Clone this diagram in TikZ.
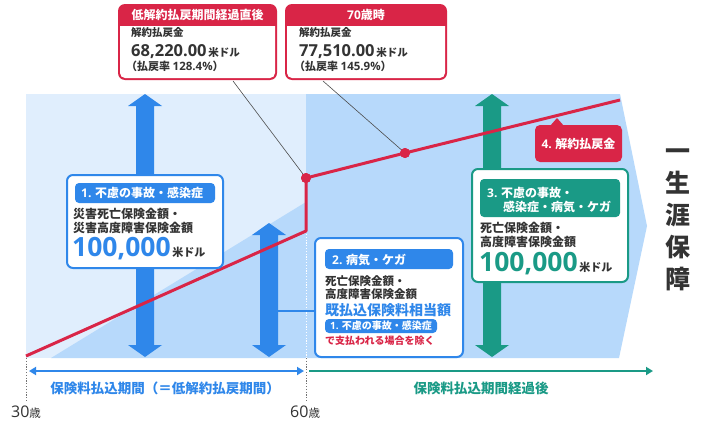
\documentclass[tikz,border=0pt]{standalone}
\usepackage{fontspec}
\setmainfont{Noto Sans CJK JP}
\newfontfamily\numfont{Open Sans}
\usetikzlibrary{arrows.meta}
\definecolor{bgA}{HTML}{E0EEFD}
\definecolor{bgB}{HTML}{B7D9FB}
\definecolor{cblue}{HTML}{2F87EA}
\definecolor{cred}{HTML}{D92547}
\definecolor{cteal}{HTML}{1A9A86}
\definecolor{ctext}{HTML}{333333}
\newcommand\fs[1]{\fontsize{#1}{#1}\selectfont}
\newcommand\vdarr[4]{\fill[#4] (#1-9,#2+12) -- (#1-17,#2+12) -- (#1,#2) -- (#1+17,#2+12) -- (#1+9,#2+12) -- (#1+9,#3-12) -- (#1+17,#3-12) -- (#1,#3) -- (#1-17,#3-12) -- (#1-9,#3-12) -- cycle;}
\tikzset{
  txt/.style={inner sep=0pt, anchor=base west, text=ctext, font=\bfseries},
  hdr/.style={inner sep=0pt, text=white, font=\bfseries},
  redline/.style={cred, line width=3pt, line join=round},
  leader/.style={draw=black!70, line width=0.6pt},
  dot/.style={circle, fill=cred, inner sep=0pt, minimum size=10pt},
  frame/.style={line width=2pt, rounded corners=6pt, fill=white},
  pill/.style={rounded corners=4pt},
  dotline/.style={line width=0.8pt, dash pattern=on 1.2pt off 1.6pt},
}
\begin{document}
\begin{tikzpicture}[x=1pt,y=-1pt]
\useasboundingbox (0,0) rectangle (722,431);
\fill[white] (0,0) rectangle (722,431);
% backgrounds
\fill[bgA] (26,94) rectangle (306,358);
\fill[bgB] (51,358) -- (306,202) -- (306,358) -- cycle;
\fill[bgB] (306,94) -- (620,94) -- (647,226) -- (619,358) -- (306,358) -- cycle;
% dotted lines
\draw[white, dotline] (306,234) -- (306,358);
\draw[black!55, dotline] (306,358) -- (306,401);
\draw[black!55, dotline] (26,358) -- (26,401);
% vertical arrows
\vdarr{145}{94}{357}{cblue}
\vdarr{269}{223}{357}{cblue}
\vdarr{492}{94}{357}{cteal}
% connector arrow B to box 2
\coordinate (cb) at (278,311);
% red line
\coordinate (r0) at (26,356);
\coordinate (r1) at (306,231);
\node[dot] (d1) at (306,178) {};
\node[dot] (d2) at (405,153) {};
\coordinate (r4) at (620,100);
\draw[redline] (r0) -- (r1) -- (d1.center) -- (d2.center) -- (r4);
% callout 1
\fill[cred, rounded corners=7pt] (118,4) rectangle (277,80);
\fill[white] (120,26) -- (275,26) {[rounded corners=5pt] -- (275,78) -- (120,78)} -- cycle;
\node[hdr, font=\bfseries\fs{12}] (h1) at (197.5,15) {低解約払戻期間経過直後};
\node[txt, font=\bfseries\fs{10.5}] at (131,36.5) {解約払戻金};
\node[txt] at (131,56) {{\numfont\bfseries\fs{16.5}68,220.00}\,{\fs{10.5}米ドル}};
\node[txt, font=\bfseries\fs{11}] at (126,70) {（払戻率 {\numfont\bfseries\fs{11.5}128.4\%}）};
\coordinate (c1) at (233,81);
% callout 2
\fill[cred, rounded corners=7pt] (285,4) rectangle (447,80);
\fill[white] (287,26) -- (445,26) {[rounded corners=5pt] -- (445,78) -- (287,78)} -- cycle;
\node[hdr, font=\bfseries\fs{12}] (h2) at (366,15) {{\numfont\bfseries 70}歳時};
\node[txt, font=\bfseries\fs{10.5}] at (299,36.5) {解約払戻金};
\node[txt] at (299,56) {{\numfont\bfseries\fs{16.5}77,510.00}\,{\fs{10.5}米ドル}};
\node[txt, font=\bfseries\fs{11}] at (294,70) {（払戻率 {\numfont\bfseries\fs{11.5}145.9\%}）};
\coordinate (c2) at (323,81);
% leaders
\draw[leader] (c1) -- (d1.center);
\draw[leader] (c2) -- (d2.center);
\node[dot] at (306,178) {};
\node[dot] at (405,153) {};
% box 1
\draw[cblue, frame] (67,175) rectangle (223,268);
\fill[cblue, pill] (75,183) rectangle (215,203);
\node[hdr, anchor=base west, font=\bfseries\fs{12}] at (81,197.5) {{\numfont\bfseries 1.} 不慮の事故・感染症};
\node[txt, font=\bfseries\fs{12}] at (73,218.5) {災害死亡保険金額・};
\node[txt, font=\bfseries\fs{12}] at (73,232) {災害高度障害保険金額};
\node[txt] at (72,256.5) {{\numfont\bfseries\fs{26.5}\color{cblue}100,000}\,{\fs{11}米ドル}};
% box 2
\draw[cblue, line width=2pt] (cb) -- (315,311);
\draw[cblue, frame] (315,238) rectangle (463,357);
\fill[cblue, pill] (325,249) rectangle (453,269);
\node[hdr, anchor=base west, font=\bfseries\fs{12}] at (332,264.5) {{\numfont\bfseries 2.} 病気・ケガ};
\node[txt, font=\bfseries\fs{11.5}] at (325,285.4) {死亡保険金額・};
\node[txt, font=\bfseries\fs{11.5}] at (325,298.4) {高度障害保険金額};
\node[txt, text=cblue, font=\bfseries\fs{14}] at (325,315.3) {既払込保険料相当額};
\fill[cblue, pill] (325,319) rectangle (437,333);
\node[hdr, anchor=base west, font=\bfseries\fs{10}] at (330,329.8) {{\numfont\bfseries 1.} 不慮の事故・感染症};
\node[txt, text=cred, font=\bfseries\fs{10}] at (325,344.8) {で支払われる場合を除く};
% box 3
\draw[cteal, frame] (472,169) rectangle (628,282);
\fill[cteal, pill] (480,179) rectangle (620,217);
\node[hdr, anchor=base west, font=\bfseries\fs{12}] at (487,197.5) {{\numfont\bfseries 3.} 不慮の事故・};
\node[hdr, anchor=base west, font=\bfseries\fs{12}] at (503,211.5) {感染症・病気・ケガ};
\node[txt, font=\bfseries\fs{12}] at (480,232.5) {死亡保険金額・};
\node[txt, font=\bfseries\fs{12}] at (480,246.5) {高度障害保険金額};
\node[txt] at (479,271.5) {{\numfont\bfseries\fs{26.5}\color{cteal}100,000}\,{\fs{11}米ドル}};
% red label 4
\fill[cred, rounded corners=5pt] (535,125) rectangle (622,162);
\fill[cred] (550,126) -- (557,118) -- (564,126) -- cycle;
\node[hdr, font=\bfseries\fs{12}] (l4) at (578.5,143.5) {{\numfont\bfseries 4.} 解約払戻金};
% vertical title
\node[inner sep=0pt, text=ctext, font=\bfseries\fontsize{25}{32}\selectfont, align=center] (title) at (678,220) {一\\生\\涯\\保\\障};
% bottom arrows
\coordinate (a0) at (29,371);
\coordinate (a1) at (304,371);
\coordinate (t0) at (309,371);
\coordinate (t1) at (653,371);
\draw[cblue, line width=2.5pt, {Triangle[length=7pt,width=8pt]}-{Triangle[length=7pt,width=8pt]}] (a0) -- (a1);
\draw[cteal, line width=2.5pt, -{Triangle[length=7pt,width=8pt]}] (t0) -- (t1);
\node[inner sep=0pt, text=cblue, font=\bfseries\fs{13.5}] (lb1) at (165,388) {保険料払込期間（＝低解約払戻期間）};
\node[inner sep=0pt, text=cteal, font=\bfseries\fs{13.5}] (lb2) at (481,388) {保険料払込期間経過後};
\node[txt, font=\fs{16}] (age30) at (11,417.5) {{\numfont 30}{\fs{11.5}歳}};
\node[txt, font=\fs{16}] (age60) at (290,417.5) {{\numfont 60}{\fs{11.5}歳}};
\end{tikzpicture}
\end{document}
